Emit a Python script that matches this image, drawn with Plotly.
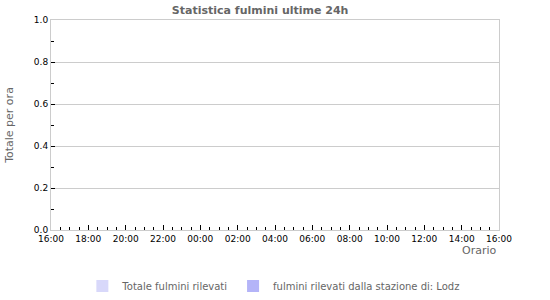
import plotly.graph_objects as go
import pandas as pd

# Data: hourly lightning counts over last 24h (all zero in the reference)
hours = pd.date_range("2024-01-01 16:00", periods=24, freq="h") + pd.Timedelta(minutes=30)
totale_fulmini = [0] * 24
fulmini_stazione = [0] * 24
series_names = ["Totale fulmini rilevati", "fulmini rilevati dalla stazione di: Lodz"]
series_colors = ["#d8d8fa", "#b4b4f8"]
x_start = "2024-01-01 16:00"
x_end = "2024-01-02 16:00"

fig = go.Figure()
for name, vals, col in zip(series_names, [totale_fulmini, fulmini_stazione], series_colors):
    fig.add_trace(go.Bar(x=hours, y=vals, name=name, marker=dict(color=col, line=dict(width=0))))

fig.update_layout(
    width=550, height=300,
    margin=dict(l=51, r=51, t=20, b=70, autoexpand=False),
    paper_bgcolor="white", plot_bgcolor="white",
    font=dict(family="DejaVu Sans", size=9, color="#000"),
    barmode="group",
    title=dict(text="<b>Statistica fulmini ultime 24h</b>", x=0.473, xref="container", xanchor="center",
               y=0.967, yref="container", yanchor="middle",
               font=dict(size=11, color="#666666", family="DejaVu Sans")),
    showlegend=True,
    legend=dict(orientation="h", x=0.07, xanchor="left", y=-0.267, yanchor="middle",
                font=dict(size=10, color="#666666", family="DejaVu Sans"),
                itemwidth=30, tracegroupgap=0),
)
fig.update_xaxes(
    type="date", range=[x_start, x_end], tickformat="%H:%M",
    dtick=2 * 3600 * 1000, tick0=x_start,
    ticks="inside", ticklen=5, tickcolor="#000", tickwidth=1,
    minor=dict(dtick=30 * 60 * 1000, ticks="inside", ticklen=3, tickcolor="#000", showgrid=False),
    showgrid=False, showline=True, linecolor="#cccccc", linewidth=1, mirror=True,
    zeroline=False, tickfont=dict(size=9, color="#000"),
)
fig.update_yaxes(
    range=[0, 1], dtick=0.2, tickformat=".1f",
    ticks="inside", ticklen=4, tickcolor="#000",
    minor=dict(dtick=0.1, ticks="inside", ticklen=3, tickcolor="#000", showgrid=False),
    showgrid=True, gridcolor="#cccccc", gridwidth=1,
    showline=True, linecolor="#cccccc", linewidth=1, mirror=True,
    zeroline=False, tickfont=dict(size=9, color="#000"),
    title=dict(text="Totale per ora", font=dict(size=11, color="#666666"), standoff=18),
)
fig.add_annotation(text="Orario", xref="paper", yref="paper", x=1, y=0, xanchor="right", yanchor="top",
                   yshift=-12, showarrow=False, font=dict(size=11, color="#666666"))

fig.write_html("out.html")
